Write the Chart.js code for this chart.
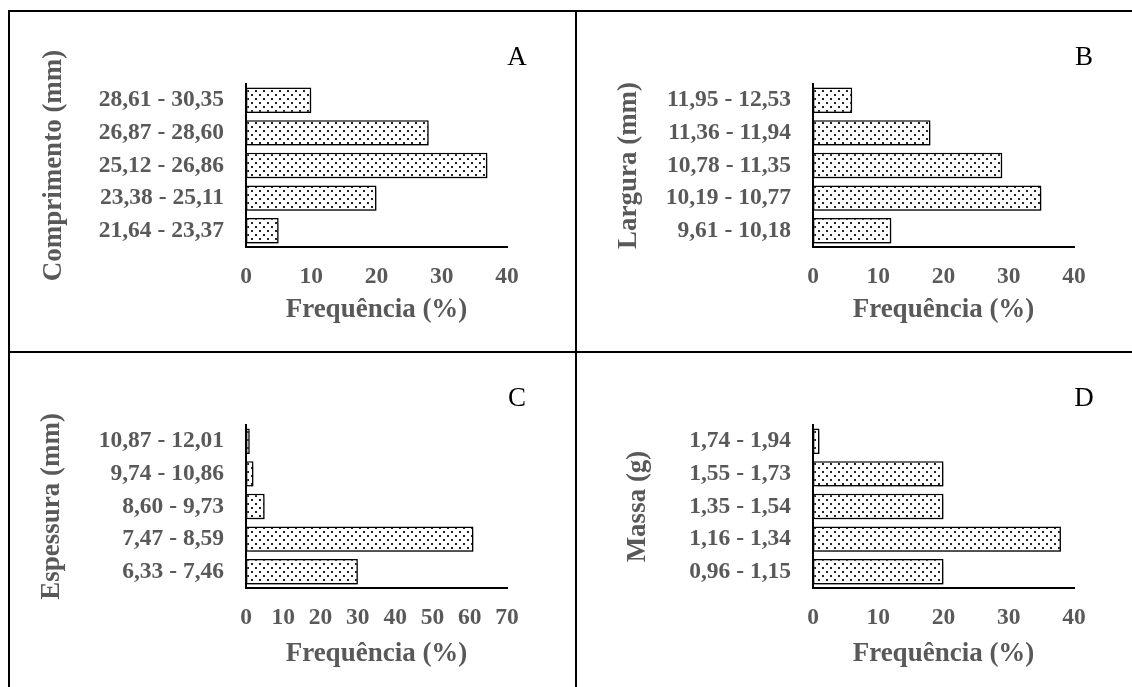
<!DOCTYPE html>
<html><head><meta charset="utf-8">
<script src="https://cdn.jsdelivr.net/npm/chart.js@4"></script>
<style>
html,body{margin:0;padding:0;background:#fff;width:1132px;height:687px;overflow:hidden;position:relative}
.line{position:absolute;background:#000}
.panel{position:absolute}
canvas{display:block}
</style></head><body>
<div class="line" style="left:8px;top:10px;width:2px;height:677px"></div>
<div class="line" style="left:8px;top:10px;width:1124px;height:2px"></div>
<div class="line" style="left:575px;top:10px;width:2px;height:677px"></div>
<div class="line" style="left:8px;top:351px;width:1124px;height:2px"></div>
<div class="panel" style="left:10px;top:13px"><canvas id="cA" width="565" height="338"></canvas></div>
<div class="panel" style="left:577px;top:13px"><canvas id="cB" width="555" height="338"></canvas></div>
<div class="panel" style="left:10px;top:354px"><canvas id="cC" width="565" height="333"></canvas></div>
<div class="panel" style="left:577px;top:354px"><canvas id="cD" width="555" height="333"></canvas></div>
<script>
// ---- data ----
const catsA = ['21,64 - 23,37','23,38 - 25,11','25,12 - 26,86','26,87 - 28,60','28,61 - 30,35'];
const valsA = [5, 20, 37, 28, 10];
const catsB = ['9,61 - 10,18','10,19 - 10,77','10,78 - 11,35','11,36 - 11,94','11,95 - 12,53'];
const valsB = [12, 35, 29, 18, 6];
const catsC = ['6,33 - 7,46','7,47 - 8,59','8,60 - 9,73','9,74 - 10,86','10,87 - 12,01'];
const valsC = [30, 61, 5, 2, 1];
const catsD = ['0,96 - 1,15','1,16 - 1,34','1,35 - 1,54','1,55 - 1,73','1,74 - 1,94'];
const valsD = [20, 38, 20, 20, 1];
const xMaxAB = 40;
const xMaxC = 70;
const xMaxD = 40;
const xStep = 10;
const titleX = 'Frequência (%)';
const titleA = 'Comprimento (mm)';
const titleB = 'Largura (mm)';
const titleC = 'Espessura (mm)';
const titleD = 'Massa (g)';

// ---- style ----
const SERIF = "'Liberation Serif','Times New Roman',serif";
const GREY = '#595959';
const TICK_SIZE = 23.5, TITLE_SIZE = 27;

function makePattern(){
  const c = document.createElement('canvas'); c.width = 8; c.height = 8;
  const g = c.getContext('2d');
  g.fillStyle = '#fff'; g.fillRect(0,0,8,8);
  g.fillStyle = '#222';
  g.fillRect(1,1,2,2); g.fillRect(5,5,2,2);
  return g.createPattern(c,'repeat');
}

const shadowPlugin = {
  id:'barShadow',
  beforeDatasetDraw(chart){ const c = chart.ctx; c.save(); c.shadowColor='rgba(0,0,0,0.45)'; c.shadowBlur=4; c.shadowOffsetX=2; c.shadowOffsetY=3; },
  afterDatasetDraw(chart){ chart.ctx.restore(); }
};
const letterPlugin = {
  id:'panelLetter',
  afterDraw(chart, args, opts){
    const {ctx, chartArea} = chart;
    ctx.save();
    ctx.font = '27px ' + SERIF;
    ctx.fillStyle = '#000'; ctx.textAlign = 'center'; ctx.textBaseline = 'middle';
    ctx.fillText(opts.text, chartArea.right + 10, chartArea.top - 26.5);
    ctx.restore();
  }
};

function build(id, cats, vals, xMax, yTitle, letter, yTitleCenter, xTitleOffset){
  const canvas = document.getElementById(id);
  const W = canvas.width, H = canvas.height;
  const areaLeft = 236, areaRight = 497, areaTop = 71, areaBottom = 234, xAxisH = 82;
  const half = TITLE_SIZE * 1.2 / 2;
  new Chart(canvas, {
    type:'bar',
    data:{ labels: cats, datasets:[{ data: vals, backgroundColor: makePattern(), borderColor:'#000', borderWidth:1.5, borderSkipped:false, barPercentage:0.78, categoryPercentage:1 }]},
    options:{
      indexAxis:'y', responsive:false, animation:false,
      layout:{ padding:{ left:0, top:areaTop, right:W-areaRight, bottom:H-areaBottom-xAxisH } },
      plugins:{ legend:{display:false}, tooltip:{enabled:false}, panelLetter:{ text: letter } },
      scales:{
        x:{ min:0, max:xMax, grid:{display:false, drawTicks:false},
            border:{display:true, color:'#000', width:2},
            ticks:{ stepSize:xStep, autoSkip:false, maxRotation:0, padding:16, color:GREY, font:{family:SERIF, size:TICK_SIZE, weight:'bold'} },
            title:{ display:true, text:titleX, color:GREY, padding:{top:0, bottom:xAxisH - xTitleOffset - half}, font:{family:SERIF, size:TITLE_SIZE, weight:'bold'} },
            afterFit(s){ s.height = xAxisH; } },
        y:{ reverse:true, grid:{display:false, drawTicks:false},
            border:{display:true, color:'#000', width:2},
            ticks:{ padding:22, autoSkip:false, color:GREY, font:{family:SERIF, size:TICK_SIZE, weight:'bold'} },
            title:{ display:true, text:yTitle, color:GREY, padding:{top: yTitleCenter - half, bottom:0}, font:{family:SERIF, size:TITLE_SIZE, weight:'bold'} },
            afterFit(s){ s.width = areaLeft; } }
      }
    },
    plugins:[shadowPlugin, letterPlugin]
  });
}
build('cA', catsA, valsA, xMaxAB, titleA, 'A', 44, 63);
build('cB', catsB, valsB, xMaxAB, titleB, 'B', 52, 63);
build('cC', catsC, valsC, xMaxC, titleC, 'C', 42, 66);
build('cD', catsD, valsD, xMaxD, titleD, 'D', 61, 66);
</script>
</body></html>
